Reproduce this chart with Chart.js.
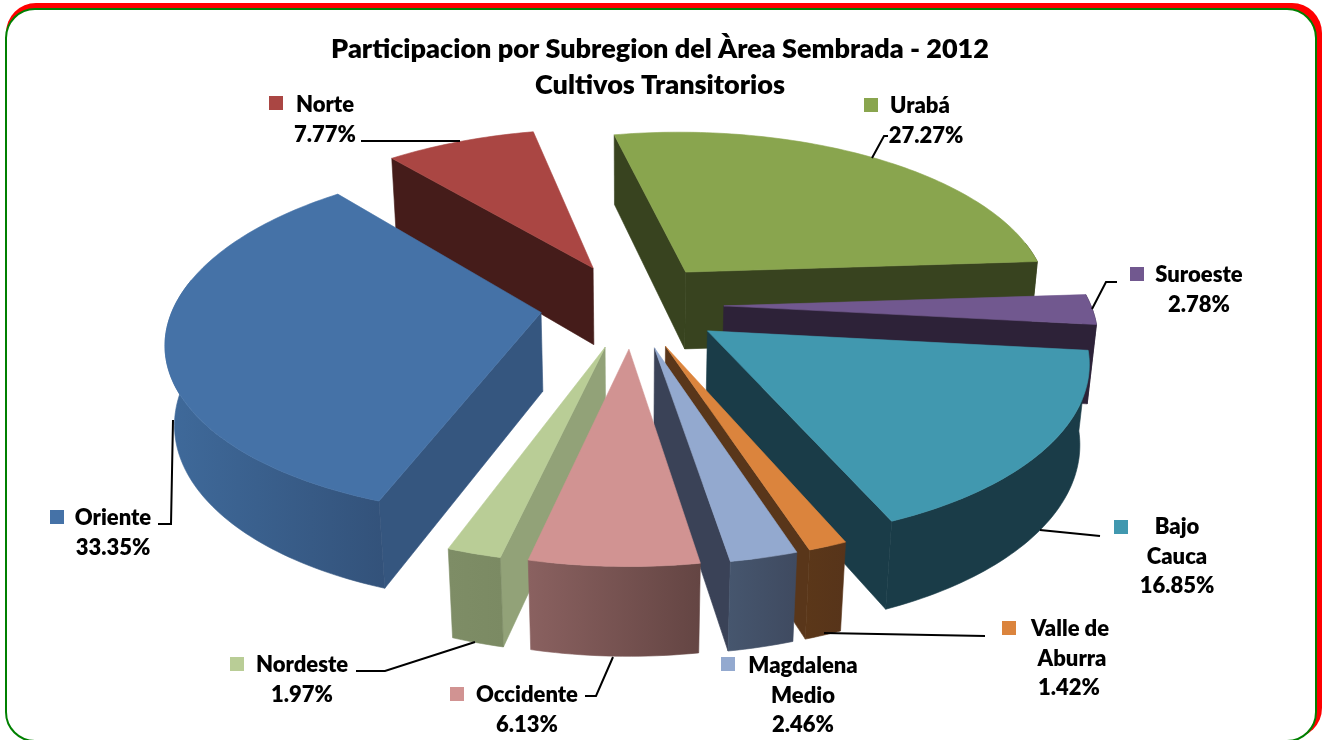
<!DOCTYPE html>
<html>
<head>
<meta charset="utf-8">
<title>Participacion por Subregion</title>
<script src="https://cdn.jsdelivr.net/npm/chart.js@4"></script>
<style>
html,body{margin:0;padding:0;background:#fff;overflow:hidden;width:1324px;height:740px;}
#red{position:absolute;left:6px;top:3px;width:1316px;height:735px;border-radius:30px;background:#f00;}
#panel{position:absolute;left:5px;top:7.5px;width:1308px;height:730px;border:2px solid #008000;border-radius:30px;background:#fff;}
#wrap{position:absolute;left:0;top:0;width:1324px;height:740px;}
</style>
</head>
<body>
<div id="red"></div>
<div id="panel"></div>
<div id="wrap"><canvas id="pie" width="1324" height="740"></canvas></div>
<script>
const categories = ["Urabá","Suroeste","Bajo Cauca","Valle de Aburra","Magdalena Medio","Occidente","Nordeste","Oriente","Norte"];
const shares = [27.27,2.78,16.85,1.42,2.46,6.13,1.97,33.35,7.77];
const titleLines = ["Participacion por Subregion del Àrea Sembrada - 2012","Cultivos Transitorios"];
const labelLines = [["Urabá"],["Suroeste"],["Bajo","Cauca"],["Valle de","Aburra"],["Magdalena","Medio"],["Occidente"],["Nordeste"],["Oriente"],["Norte"]];
// explosion of each slice, % of the radius
const explosion = [25,25,25,25,25,25,25,25,25];
const topColors = ["#89a54e","#71588f","#4198af","#db843d","#93a9cf","#d19392","#b9cd96","#4572a7","#aa4643"];
const cutColors = ["#38431f","#2d2238","#1a3c48","#59361a","#3a4257","#92a278","#92a278","#35567f","#451c1a"];
const wallLeft  = ["#38431f","#2d2238","#1a3c48","#5b3719","#46566e","#8a6160","#7e8d66","#3f6a9b","#451c1a"];
const wallRight = ["#38431f","#2d2238","#1a3c48","#57341a","#3f4a60","#644543","#7b8a63","#33527a","#451c1a"];

const view = {cx:632, cy:305, sx:367, sy:170, sz:80, persp:-0.15, sink:0.02};
const FONT = "Lato, 'Open Sans', sans-serif";

// key box, line x, first line y, then leader polyline
const labelBoxes = [
  {key:[864,98],  xs:[920,926], y:106, lead:[[872,158],[884,136],[888,136]]},
  {key:[1130,267],xs:[1199,1199], y:275, lead:[[1092,309],[1106,282],[1117,282]]},
  {key:[1114,520],xs:[1177,1177,1177], y:527, lead:[[1040,530],[1100,536]]},
  {key:[1002,621],xs:[1070,1072,1069], y:629, lead:[[824,633],[985,636]]},
  {key:[721,657], xs:[803,803,803], y:666, lead:null},
  {key:[450,687], xs:[527,527], y:695, lead:[[613,657],[596,696],[585,696]]},
  {key:[230,657], xs:[302,302], y:665, lead:[[475,642],[385,671],[356,671]]},
  {key:[50,510],  xs:[113,113], y:518, lead:[[173,420],[171,524],[158,524]]},
  {key:[269,96],  xs:[325,325], y:105, lead:[[361,141],[460,141]]}
];

function project(X,Y,D){
  const w = 1 + view.persp*Y + view.sink*D;
  return [view.cx + view.sx*X/w, view.cy + (view.sy*Y + view.sz*D)/w];
}
function fillPoly(ctx,pts,fill){
  ctx.beginPath();
  pts.forEach((p,i)=> i ? ctx.lineTo(p[0],p[1]) : ctx.moveTo(p[0],p[1]));
  ctx.closePath();
  ctx.fillStyle = fill; ctx.fill();
  ctx.strokeStyle = fill; ctx.lineWidth = 0.6;
  ctx.stroke();
}

function drawSlice(ctx,el,i){
  const a0 = el.startAngle, a1 = el.endAngle, mid = (a0+a1)/2;
  const e = el.options.offset/100;
  const ox = Math.cos(mid)*e, oy = Math.sin(mid)*e;
  const rim = [];
  const steps = Math.max(4, Math.ceil((a1-a0)/0.02));
  for(let k=0;k<=steps;k++){
    const a = a0 + (a1-a0)*k/steps;
    rim.push([ox+Math.cos(a), oy+Math.sin(a), Math.sin(a)]);
  }
  const first = rim[0], last = rim[rim.length-1];
  const quad = r => [project(ox,oy,0),project(r[0],r[1],0),project(r[0],r[1],1),project(ox,oy,1)];
  // cut faces, only the ones that look toward the viewer
  if(project(first[0],first[1],0)[0] < project(ox,oy,0)[0]) fillPoly(ctx,quad(first),cutColors[i]);
  if(project(last[0],last[1],0)[0] > project(ox,oy,0)[0]) fillPoly(ctx,quad(last),cutColors[i]);
  // outer wall
  const front = rim.filter(r=>r[2] > -0.2);
  if(front.length > 1){
    const up = front.map(r=>project(r[0],r[1],0));
    const down = front.map(r=>project(r[0],r[1],1)).reverse();
    const xs = up.concat(down).map(p=>p[0]);
    const g = ctx.createLinearGradient(Math.min(...xs),0,Math.max(...xs),0);
    g.addColorStop(0,wallLeft[i]); g.addColorStop(1,wallRight[i]);
    fillPoly(ctx,up.concat(down),g);
  }
  // top face
  const top = [project(ox,oy,0)].concat(rim.map(r=>project(r[0],r[1],0)));
  fillPoly(ctx,top,el.options.backgroundColor);
}

const pie3d = {
  id:"pie3d",
  beforeDatasetsDraw(chart){
    const ctx = chart.ctx, arcs = chart.getDatasetMeta(0).data;
    const order = arcs.map((el,i)=>i).sort((p,q)=>
      Math.sin((arcs[p].startAngle+arcs[p].endAngle)/2) - Math.sin((arcs[q].startAngle+arcs[q].endAngle)/2));
    ctx.save();
    order.forEach(i=>drawSlice(ctx,arcs[i],i));
    ctx.restore();
    return false;
  },
  afterDraw(chart){
    const ctx = chart.ctx;
    ctx.save();
    labelBoxes.forEach((b,i)=>{
      ctx.fillStyle = topColors[i];
      ctx.fillRect(b.key[0],b.key[1],14,14);
      if(b.lead){
        ctx.beginPath();
        b.lead.forEach((p,k)=> k ? ctx.lineTo(p[0],p[1]) : ctx.moveTo(p[0],p[1]));
        ctx.strokeStyle = "#000"; ctx.lineWidth = 2; ctx.stroke();
      }
      ctx.font = "800 22px "+FONT;
      ctx.fillStyle = "#000"; ctx.textAlign = "center"; ctx.textBaseline = "middle";
      labelLines[i].concat(shares[i].toFixed(2)+"%").forEach((t,k)=>{
        ctx.fillText(t,b.xs[k],b.y+k*29.5);
      });
    });
    ctx.restore();
  }
};

new Chart(document.getElementById("pie"),{
  type:"pie",
  data:{labels:categories,datasets:[{data:shares,backgroundColor:topColors,offset:explosion,borderWidth:0}]},
  options:{
    responsive:false,
    animation:false,
    rotation:-12,
    layout:{padding:{top:0,left:0,right:4,bottom:0}},
    plugins:{
      legend:{display:false},
      tooltip:{enabled:false},
      title:{display:true,text:titleLines,color:"#000",font:{family:FONT,size:27,weight:"800",lineHeight:1.33},padding:{top:31,bottom:10}}
    }
  },
  plugins:[pie3d]
});
</script>
</body>
</html>
